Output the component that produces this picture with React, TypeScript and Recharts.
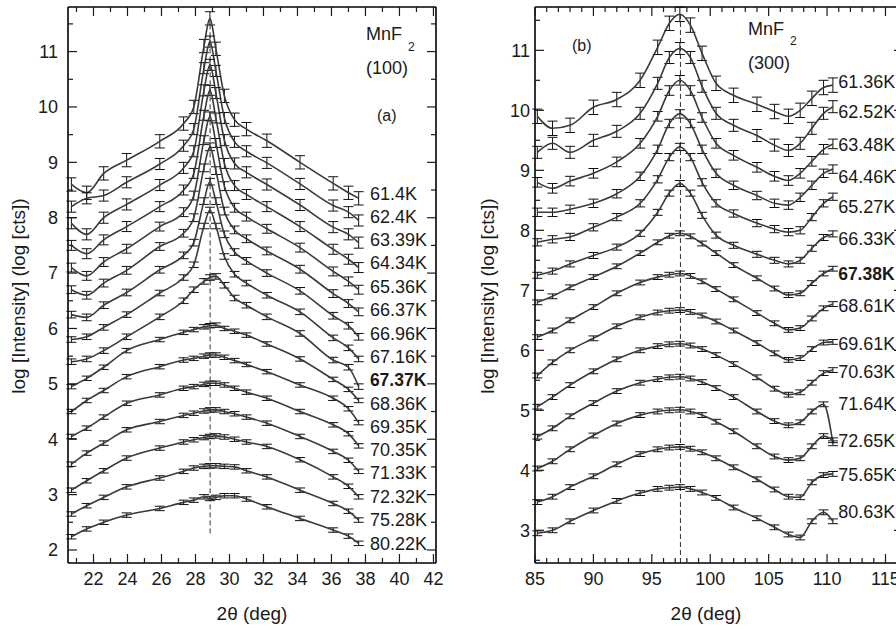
import React from 'react';
import { LineChart, Line, XAxis, YAxis, ErrorBar, ReferenceLine, ReferenceDot } from 'recharts';

const FONT = '"Liberation Sans", Arial, sans-serif';
const INK = '#1a1a1a';
const BOX = { stroke: '#000', strokeWidth: 1.6 };

// ---------- panel (a): MnF2 (100) ----------
const A_X = [20.7, 21.6, 22.6, 23.95, 25.9, 27.3, 27.9, 28.5, 28.85, 29.2, 29.7, 30.3, 31.0, 32.2, 34.15, 36.1, 37.0, 37.6];
const A_X_TICKS = [21, 22, 23, 24, 25, 26, 27, 28, 29, 30, 31, 32, 33, 34, 35, 36, 37, 38, 39, 40, 41, 42];
const A_X_LABELS = [22, 24, 26, 28, 30, 32, 34, 36, 38, 40, 42];
const A_Y_TICKS = [2, 2.5, 3, 3.5, 4, 4.5, 5, 5.5, 6, 6.5, 7, 7.5, 8, 8.5, 9, 9.5, 10, 10.5, 11, 11.5];
const A_Y_LABELS = [2, 3, 4, 5, 6, 7, 8, 9, 10, 11];

const A_61_40 = [8.6, 8.45, 8.8, 9.04, 9.38, 9.7, 10.0, 11.1, 11.6, 11.05, 10.2, 9.77, 9.6, 9.39, 9.0, 8.62, 8.45, 8.35];
const A_62_40 = [8.2, 8.35, 8.4, 8.64, 8.97, 9.3, 9.6, 10.7, 11.18, 10.65, 9.8, 9.37, 9.2, 8.99, 8.61, 8.22, 8.1, 7.95];
const A_63_39 = [7.9, 7.7, 8.0, 8.24, 8.59, 8.9, 9.2, 10.3, 10.76, 10.25, 9.4, 8.98, 8.82, 8.6, 8.23, 7.83, 7.7, 7.55];
const A_64_34 = [7.5, 7.35, 7.6, 7.84, 8.2, 8.5, 8.8, 9.85, 10.3, 9.8, 8.98, 8.58, 8.42, 8.2, 7.84, 7.43, 7.25, 7.1];
const A_65_36 = [7.1, 6.95, 7.2, 7.44, 7.84, 8.1, 8.4, 9.4, 9.83, 9.35, 8.57, 8.18, 8.02, 7.8, 7.46, 7.03, 6.85, 6.7];
const A_66_37 = [6.7, 6.6, 6.82, 7.05, 7.48, 7.72, 8.0, 8.9, 9.28, 8.85, 8.12, 7.78, 7.62, 7.4, 7.07, 6.63, 6.45, 6.3];
const A_66_96 = [6.25, 6.2, 6.42, 6.65, 7.06, 7.32, 7.55, 8.3, 8.65, 8.3, 7.7, 7.38, 7.22, 7.0, 6.68, 6.23, 6.05, 5.85];
const A_67_16 = [5.8, 5.85, 6.02, 6.25, 6.64, 6.92, 7.15, 7.85, 8.14, 7.85, 7.3, 6.98, 6.82, 6.6, 6.3, 5.83, 5.65, 5.45];
const A_67_37 = [5.4, 5.45, 5.6, 5.85, 6.21, 6.5, 6.7, 6.85, 6.92, 6.94, 6.78, 6.55, 6.42, 6.21, 5.91, 5.43, 5.3, 4.95];
const A_68_36 = [4.95, 5.1, 5.3, 5.6, 5.8, 5.93, 5.98, 6.03, 6.05, 6.06, 6.0, 5.95, 5.88, 5.72, 5.45, 5.08, 4.9, 4.7];
const A_69_35 = [4.5, 4.7, 4.88, 5.13, 5.31, 5.43, 5.46, 5.5, 5.52, 5.52, 5.48, 5.42, 5.35, 5.22, 4.98, 4.74, 4.55, 4.3];
const A_70_35 = [4.05, 4.2, 4.4, 4.65, 4.8, 4.92, 4.95, 4.99, 5.01, 5.01, 4.98, 4.92, 4.85, 4.74, 4.5, 4.26, 4.1, 3.88];
const A_71_33 = [3.55, 3.75, 3.93, 4.17, 4.32, 4.43, 4.47, 4.51, 4.53, 4.53, 4.5, 4.46, 4.4, 4.29, 4.05, 3.78, 3.62, 3.42];
const A_72_32 = [3.08, 3.25, 3.43, 3.66, 3.84, 3.95, 3.99, 4.03, 4.05, 4.06, 4.04, 4.0, 3.95, 3.87, 3.63, 3.32, 3.15, 2.96];
const A_75_28 = [2.65, 2.8, 2.95, 3.14, 3.3, 3.42, 3.48, 3.51, 3.52, 3.52, 3.51, 3.5, 3.43, 3.32, 3.08, 2.84, 2.7, 2.54];
const A_80_22 = [2.24, 2.38, 2.5, 2.63, 2.75, 2.86, 2.9, 2.96, 2.93, 2.95, 2.98, 2.98, 2.92, 2.78, 2.57, 2.36, 2.25, 2.12];

const A_SERIES = [
  { temp: '61.4K', values: A_61_40, err: 0.12, tag: 8.44 },
  { temp: '62.4K', values: A_62_40, err: 0.1, tag: 8.02 },
  { temp: '63.39K', values: A_63_39, err: 0.1, tag: 7.61 },
  { temp: '64.34K', values: A_64_34, err: 0.09, tag: 7.18 },
  { temp: '65.36K', values: A_65_36, err: 0.08, tag: 6.76 },
  { temp: '66.37K', values: A_66_37, err: 0.07, tag: 6.33 },
  { temp: '66.96K', values: A_66_96, err: 0.06, tag: 5.91 },
  { temp: '67.16K', values: A_67_16, err: 0.05, tag: 5.49 },
  { temp: '67.37K', values: A_67_37, err: 0.05, tag: 5.07, bold: true },
  { temp: '68.36K', values: A_68_36, err: 0.04, tag: 4.65 },
  { temp: '69.35K', values: A_69_35, err: 0.04, tag: 4.23 },
  { temp: '70.35K', values: A_70_35, err: 0.04, tag: 3.81 },
  { temp: '71.33K', values: A_71_33, err: 0.04, tag: 3.39 },
  { temp: '72.32K', values: A_72_32, err: 0.04, tag: 2.96 },
  { temp: '75.28K', values: A_75_28, err: 0.04, tag: 2.54 },
  { temp: '80.22K', values: A_80_22, err: 0.04, tag: 2.12 },
];

// ---------- panel (b): MnF2 (300) ----------
const B_X = [85.2, 86.5, 88, 90, 92, 94, 95.5, 96.5, 97.4, 98.3, 99.3, 100.5, 102, 104, 105.5, 106.7, 107.7, 108.7, 109.7, 110.5];
const B_X_TICKS = [85, 86, 87, 88, 89, 90, 91, 92, 93, 94, 95, 96, 97, 98, 99, 100, 101, 102, 103, 104, 105, 106, 107, 108, 109, 110, 111, 112, 113, 114, 115, 116];
const B_X_LABELS = [85, 90, 95, 100, 105, 110, 115];
const B_Y_TICKS = [2.5, 3, 3.5, 4, 4.5, 5, 5.5, 6, 6.5, 7, 7.5, 8, 8.5, 9, 9.5, 10, 10.5, 11, 11.5];
const B_Y_LABELS = [3, 4, 5, 6, 7, 8, 9, 10, 11];

const B_61_36 = [9.9, 9.7, 9.75, 10.05, 10.18, 10.5, 11.05, 11.45, 11.6, 11.42, 10.95, 10.45, 10.25, 10.1, 9.98, 9.9, 10.0, 10.2, 10.38, 10.42];
const B_62_52 = [9.3, 9.45, 9.3, 9.5, 9.65, 9.95, 10.45, 10.88, 11.03, 10.88, 10.4, 9.95, 9.75, 9.58, 9.42, 9.33, 9.45, 9.7, 9.95, 10.06];
const B_63_48 = [8.8, 8.7, 8.82, 8.95, 9.14, 9.45, 9.9, 10.33, 10.5, 10.33, 9.88, 9.45, 9.25, 9.05, 8.9, 8.83, 8.95, 9.15, 9.35, 9.44];
const B_64_46 = [8.3, 8.3, 8.35, 8.45, 8.61, 8.9, 9.35, 9.78, 9.94, 9.78, 9.35, 8.95, 8.75, 8.58, 8.45, 8.42, 8.55, 8.75, 8.95, 9.02];
const B_65_27 = [7.8, 7.85, 7.89, 8.05, 8.22, 8.45, 8.85, 9.22, 9.39, 9.22, 8.8, 8.45, 8.28, 8.12, 8.02, 7.97, 8.0, 8.22, 8.45, 8.56];
const B_66_33 = [7.25, 7.32, 7.44, 7.58, 7.72, 7.95, 8.3, 8.62, 8.78, 8.62, 8.25, 7.92, 7.75, 7.6, 7.5, 7.44, 7.5, 7.7, 7.88, 7.94];
const B_67_38 = [6.8, 6.9, 7.05, 7.22, 7.4, 7.62, 7.8, 7.91, 7.95, 7.9, 7.78, 7.62, 7.42, 7.2, 7.03, 6.92, 6.95, 7.12, 7.28, 7.36];
const B_68_61 = [6.22, 6.33, 6.5, 6.72, 6.95, 7.13, 7.22, 7.26, 7.28, 7.24, 7.15, 7.02, 6.85, 6.62, 6.45, 6.34, 6.37, 6.53, 6.7, 6.77];
const B_69_61 = [5.58, 5.8, 6.0, 6.2, 6.4, 6.55, 6.63, 6.66, 6.67, 6.64, 6.58, 6.48, 6.33, 6.12, 5.95, 5.84, 5.87, 6.02, 6.13, 6.14];
const B_70_63 = [5.06, 5.22, 5.42, 5.65, 5.85, 6.0, 6.07, 6.1, 6.11, 6.08, 6.02, 5.92, 5.77, 5.55, 5.36, 5.26, 5.3, 5.46, 5.62, 5.67];
const B_71_64 = [4.56, 4.7, 4.9, 5.12, 5.32, 5.46, 5.52, 5.55, 5.56, 5.53, 5.47, 5.37, 5.22, 4.98, 4.82, 4.75, 4.8, 4.98, 5.1, 4.45];
const B_72_65 = [4.03, 4.15, 4.35, 4.58, 4.78, 4.92, 4.98, 5.0, 5.01, 4.98, 4.92, 4.81, 4.65, 4.4, 4.23, 4.17, 4.2, 4.4, 4.57, 4.5];
const B_75_65 = [3.47, 3.56, 3.72, 3.9, 4.1, 4.27, 4.35, 4.38, 4.39, 4.36, 4.3, 4.2, 4.05, 3.85, 3.68, 3.56, 3.55, 3.8, 3.92, 3.94];
const B_80_63 = [2.95, 3.0, 3.15, 3.33, 3.49, 3.62, 3.69, 3.71, 3.72, 3.69, 3.63, 3.54, 3.38, 3.2, 3.05, 2.93, 2.88, 3.15, 3.3, 3.15];

const B_SERIES = [
  { temp: '61.36K', values: B_61_36, err: 0.12, tag: 10.47 },
  { temp: '62.52K', values: B_62_52, err: 0.1, tag: 9.97 },
  { temp: '63.48K', values: B_63_48, err: 0.08, tag: 9.42 },
  { temp: '64.46K', values: B_64_46, err: 0.07, tag: 8.89 },
  { temp: '65.27K', values: B_65_27, err: 0.06, tag: 8.39 },
  { temp: '66.33K', values: B_66_33, err: 0.05, tag: 7.86 },
  { temp: '67.38K', values: B_67_38, err: 0.04, tag: 7.28, bold: true },
  { temp: '68.61K', values: B_68_61, err: 0.04, tag: 6.75 },
  { temp: '69.61K', values: B_69_61, err: 0.04, tag: 6.11 },
  { temp: '70.63K', values: B_70_63, err: 0.04, tag: 5.64 },
  { temp: '71.64K', values: B_71_64, err: 0.04, tag: 5.11 },
  { temp: '72.65K', values: B_72_65, err: 0.04, tag: 4.5 },
  { temp: '75.65K', values: B_75_65, err: 0.04, tag: 3.92 },
  { temp: '80.63K', values: B_80_63, err: 0.04, tag: 3.31 },
];

// ---------- inward ticks on all four sides ----------
const bottomTick = (labels: number[]) => (p: any) => {
  const major = labels.includes(p.payload.value);
  return (
    <g>
      <line x1={p.x} x2={p.x} y1={p.y} y2={p.y - (major ? 9 : 5)} stroke={INK} strokeWidth={1.2} />
      {major && (
        <text x={p.x} y={p.y + 22} textAnchor="middle" fontSize={18} fontFamily={FONT} fill={INK}>
          {p.payload.value}
        </text>
      )}
    </g>
  );
};

const topTick = (labels: number[]) => (p: any) => {
  const major = labels.includes(p.payload.value);
  return <line x1={p.x} x2={p.x} y1={p.y} y2={p.y + (major ? 9 : 5)} stroke={INK} strokeWidth={1.2} />;
};

const leftTick = (labels: number[], gap: number) => (p: any) => {
  const major = labels.includes(p.payload.value);
  return (
    <g>
      <line x1={p.x} x2={p.x + (major ? 9 : 5)} y1={p.y} y2={p.y} stroke={INK} strokeWidth={1.2} />
      {major && (
        <text x={p.x - gap} y={p.y + 6.3} textAnchor="end" fontSize={18} fontFamily={FONT} fill={INK}>
          {p.payload.value}
        </text>
      )}
    </g>
  );
};

const rightTick = (labels: number[]) => (p: any) => {
  const major = labels.includes(p.payload.value);
  return <line x1={p.x} x2={p.x - (major ? 9 : 5)} y1={p.y} y2={p.y} stroke={INK} strokeWidth={1.2} />;
};

const tempLabel = (text: string, bold?: boolean) => (p: any) => (
  <text
    x={p.viewBox.x}
    y={p.viewBox.y + 6.3}
    fontSize={bold ? 17.5 : 18}
    fontFamily={FONT}
    fontWeight={bold ? 'bold' : 'normal'}
    fill={INK}
  >
    {text}
  </text>
);

interface PanelProps {
  xs: number[];
  series: { temp: string; values: number[]; err: number; tag: number; bold?: boolean }[];
  xDomain: [number, number];
  yDomain: [number, number];
  xTicks: number[];
  xLabels: number[];
  yTicks: number[];
  yLabels: number[];
  yGap: number;
  yAxisWidth: number;
  rightMargin: number;
  tagX: number;
  peakX: number;
  dashFrom: number;
  dashTo: number;
}

const Panel: React.FC<PanelProps> = (props) => {
  const rows = props.xs.map((x, i) => {
    const row: Record<string, number> = { x };
    props.series.forEach((s, k) => {
      row['v' + k] = s.values[i];
      row['e' + k] = s.err;
    });
    return row;
  });

  return (
    <LineChart
      width={props.yAxisWidth + 10 + 368 + props.rightMargin + 2}
      height={630}
      data={rows}
      margin={{ top: 5, right: props.rightMargin, bottom: 7, left: 10 }}
    >
      <XAxis
        xAxisId="b"
        dataKey="x"
        type="number"
        domain={props.xDomain}
        allowDataOverflow
        ticks={props.xTicks}
        interval={0}
        tickSize={0}
        tickMargin={0}
        tickLine={false}
        axisLine={BOX}
        height={60}
        tick={bottomTick(props.xLabels)}
      />
      <XAxis
        xAxisId="t"
        orientation="top"
        dataKey="x"
        type="number"
        domain={props.xDomain}
        allowDataOverflow
        ticks={props.xTicks}
        interval={0}
        tickSize={0}
        tickMargin={0}
        tickLine={false}
        axisLine={BOX}
        height={2}
        tick={topTick(props.xLabels)}
      />
      <YAxis
        yAxisId="l"
        type="number"
        domain={props.yDomain}
        allowDataOverflow
        ticks={props.yTicks}
        interval={0}
        tickSize={0}
        tickMargin={0}
        tickLine={false}
        axisLine={BOX}
        width={props.yAxisWidth}
        tick={leftTick(props.yLabels, props.yGap)}
      />
      <YAxis
        yAxisId="r"
        orientation="right"
        type="number"
        domain={props.yDomain}
        allowDataOverflow
        ticks={props.yTicks}
        interval={0}
        tickSize={0}
        tickMargin={0}
        tickLine={false}
        axisLine={BOX}
        width={2}
        tick={rightTick(props.yLabels)}
      />
      <ReferenceLine
        xAxisId="b"
        yAxisId="l"
        segment={[{ x: props.peakX, y: props.dashFrom }, { x: props.peakX, y: props.dashTo }]}
        stroke="#333"
        strokeDasharray="5 3"
        strokeWidth={1}
      />
      {props.series.map((s, k) => (
        <Line
          key={s.temp}
          xAxisId="b"
          yAxisId="l"
          type="monotone"
          dataKey={'v' + k}
          stroke="#3a3a3a"
          strokeWidth={1.6}
          dot={false}
          isAnimationActive={false}
        >
          <ErrorBar dataKey={'e' + k} direction="y" width={5} stroke="#111" strokeWidth={1} />
        </Line>
      ))}
      {props.series.map((s) => (
        <ReferenceDot
          key={'tag' + s.temp}
          xAxisId="b"
          yAxisId="l"
          x={props.tagX}
          y={s.tag}
          r={0}
          stroke="none"
          fill="none"
          label={tempLabel(s.temp, s.bold)}
        />
      ))}
    </LineChart>
  );
};

const text = (left: number, top: number, size: number, content: React.ReactNode, extra: React.CSSProperties = {}) => (
  <div
    style={{
      position: 'absolute',
      left,
      top,
      fontSize: size,
      lineHeight: `${size}px`,
      fontFamily: FONT,
      color: INK,
      whiteSpace: 'nowrap',
      ...extra,
    }}
  >
    {content}
  </div>
);

const centered = (cx: number, cy: number, size: number, content: string, rotate = 0) =>
  text(cx, cy, size, content, { transform: `translate(-50%, -50%) rotate(${rotate}deg)` });

export default function App() {
  return (
    <div style={{ position: 'absolute', left: 0, top: 0, width: 896, height: 630, overflow: 'hidden', background: '#fff' }}>
      <div style={{ position: 'absolute', left: 0, top: 0 }}>
        <Panel
          xs={A_X}
          series={A_SERIES}
          xDomain={[20.5, 42.15]}
          yDomain={[1.765, 11.805]}
          xTicks={A_X_TICKS}
          xLabels={A_X_LABELS}
          yTicks={A_Y_TICKS}
          yLabels={A_Y_LABELS}
          yGap={10}
          yAxisWidth={58}
          rightMargin={12}
          tagX={38.26}
          peakX={28.86}
          dashFrom={2.3}
          dashTo={11.6}
        />
      </div>
      <div style={{ position: 'absolute', left: 450, top: 0 }}>
        <Panel
          xs={B_X}
          series={B_SERIES}
          xDomain={[85, 116.5]}
          yDomain={[2.455, 11.722]}
          xTicks={B_X_TICKS}
          xLabels={B_X_LABELS}
          yTicks={B_Y_TICKS}
          yLabels={B_Y_LABELS}
          yGap={5}
          yAxisWidth={75}
          rightMargin={11}
          tagX={110.95}
          peakX={97.45}
          dashFrom={2.455}
          dashTo={11.6}
        />
      </div>

      {centered(18, 296, 19, 'log [Intensity] (log [cts])', -90)}
      {centered(487, 296, 19, 'log [Intensity] (log [cts])', -90)}
      {centered(252, 613, 19, '2θ (deg)')}
      {centered(706, 613, 19, '2θ (deg)')}

      {text(366, 25, 18, 'MnF')}
      {text(408, 41, 12, '2')}
      {text(366, 59, 18, '(100)')}
      {text(377, 108, 16, '(a)')}

      {text(748, 20, 18, 'MnF')}
      {text(790, 35, 12, '2')}
      {text(748, 54, 18, '(300)')}
      {text(572, 38, 16, '(b)')}
    </div>
  );
}
